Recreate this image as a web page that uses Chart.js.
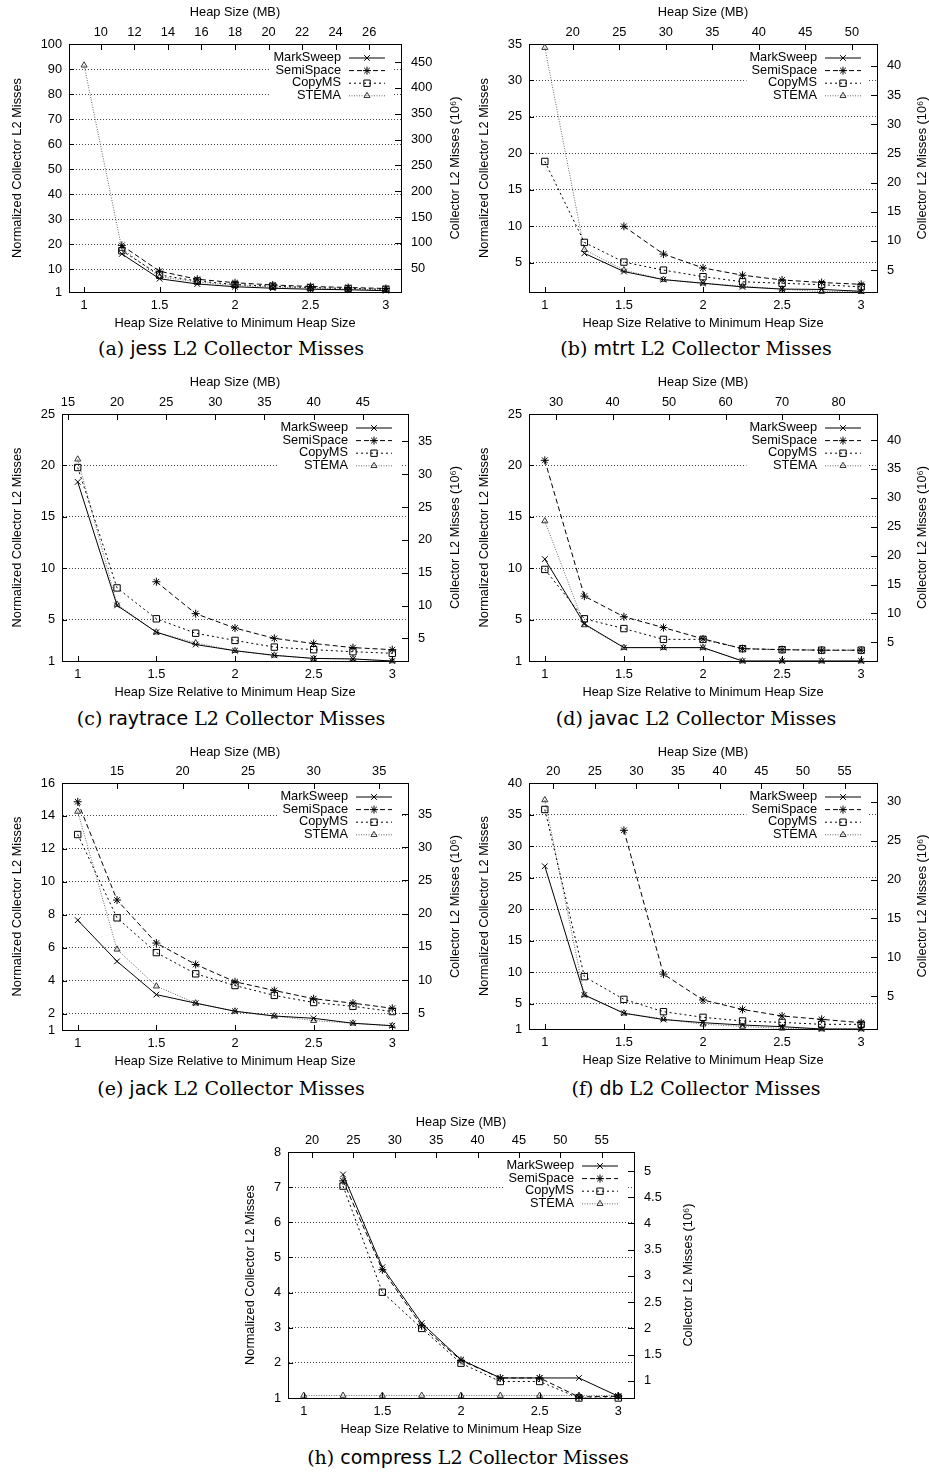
<!DOCTYPE html>
<html>
<head>
<meta charset="utf-8">
<script src="https://cdn.jsdelivr.net/npm/chart.js@4.4.1/dist/chart.umd.min.js"></script>
<style>
  body { margin: 0; background: #fff; width: 929px; height: 1472px; position: relative; overflow: hidden; }
  .panel { position: absolute; }
  .caption { position: absolute; font-family: "DejaVu Serif", "Liberation Serif", serif; font-size: 19px; white-space: nowrap; transform: translate(-50%, -50%); }
  .caption span { font-family: "DejaVu Sans", "Liberation Sans", sans-serif; }
</style>
</head>
<body>
<script>
const heapRatio = [1, 1.25, 1.5, 1.75, 2, 2.25, 2.5, 2.75, 3];
const ratioTicks = [1, 1.5, 2, 2.5, 3];
const collectors = ['MarkSweep', 'SemiSpace', 'CopyMS', 'STEMA'];

// (a) jess
const jessMinHeap = 9;
const jessHeapTicks = [10, 12, 14, 16, 18, 20, 22, 24, 26];
const jessNormRange = [1, 100];
const jessNormTicks = [1, 10, 20, 30, 40, 50, 60, 70, 80, 90, 100];
const jessMissTicks = [50, 100, 150, 200, 250, 300, 350, 400, 450];
const jessMissPerUnit = 4.85;
const jessMarkSweep = [null, 16.2, 6.3, 4.2, 3.1, 2.5, 2.1, 1.9, 1.5];
const jessSemiSpace = [null, 19.6, 9.3, 6.1, 4.7, 3.8, 3.2, 2.8, 2.4];
const jessCopyMS = [null, 17.5, 7.8, 5.4, 4.0, 3.3, 2.8, 2.4, 2.1];
const jessSTEMA = [91.5, 18.3, 7.1, 5.0, 3.6, 3.0, 2.5, 2.1, 1.9];

// (b) mtrt
const mtrtMinHeap = 17;
const mtrtHeapTicks = [20, 25, 30, 35, 40, 45, 50];
const mtrtNormRange = [1, 35];
const mtrtNormTicks = [5, 10, 15, 20, 25, 30, 35];
const mtrtMissTicks = [5, 10, 15, 20, 25, 30, 35, 40];
const mtrtMissPerUnit = 1.25;
const mtrtMarkSweep = [null, 6.3, 3.8, 2.7, 2.2, 1.7, 1.4, 1.35, 1.1];
const mtrtSemiSpace = [null, null, 10.0, 6.2, 4.3, 3.3, 2.65, 2.3, 2.05];
const mtrtCopyMS = [18.9, 7.8, 5.1, 4.0, 3.1, 2.4, 2.2, 2.0, 1.7];
const mtrtSTEMA = [34.5, 6.8, 4.0, 2.7, 2.2, 1.8, 1.4, 1.05, 1.05];

// (c) raytrace
const raytraceMinHeap = 16;
const raytraceHeapTicks = [15, 20, 25, 30, 35, 40, 45];
const raytraceNormRange = [1, 25];
const raytraceNormTicks = [1, 5, 10, 15, 20, 25];
const raytraceMissTicks = [5, 10, 15, 20, 25, 30, 35];
const raytraceMissPerUnit = 1.567;
const raytraceMarkSweep = [18.4, 6.4, 3.8, 2.6, 2.0, 1.55, 1.25, 1.2, 1.0];
const raytraceSemiSpace = [null, null, 8.7, 5.6, 4.2, 3.2, 2.7, 2.3, 2.1];
const raytraceCopyMS = [19.8, 8.1, 5.1, 3.7, 3.0, 2.35, 2.1, 1.9, 1.75];
const raytraceSTEMA = [20.6, 6.5, 3.8, 2.75, 2.0, 1.55, 1.25, 1.2, 1.0];

// (d) javac
const javacMinHeap = 28;
const javacHeapTicks = [30, 40, 50, 60, 70, 80];
const javacNormRange = [1, 25];
const javacNormTicks = [1, 5, 10, 15, 20, 25];
const javacMissTicks = [5, 10, 15, 20, 25, 30, 35, 40];
const javacMissPerUnit = 1.78;
const javacMarkSweep = [10.9, 4.6, 2.3, 2.3, 2.3, 1.0, 1.0, 1.0, 1.0];
const javacSemiSpace = [20.5, 7.3, 5.3, 4.25, 3.15, 2.2, 2.1, 2.05, 2.05];
const javacCopyMS = [9.9, 5.1, 4.15, 3.1, 3.1, 2.2, 2.1, 2.05, 2.05];
const javacSTEMA = [14.6, 4.5, 2.3, 2.3, 2.3, 1.0, 1.0, 1.0, 1.0];

// (e) jack
const jackMinHeap = 12;
const jackHeapTicks = [15, 20, 25, 30, 35];
const jackNormRange = [1, 16];
const jackNormTicks = [1, 2, 4, 6, 8, 10, 12, 14, 16];
const jackMissTicks = [5, 10, 15, 20, 25, 30, 35];
const jackMissPerUnit = 2.48;
const jackMarkSweep = [7.67, 5.17, 3.15, 2.63, 2.14, 1.85, 1.71, 1.41, 1.26];
const jackSemiSpace = [14.86, 8.89, 6.28, 4.98, 3.93, 3.4, 2.9, 2.63, 2.32];
const jackCopyMS = [12.87, 7.81, 5.7, 4.41, 3.7, 3.1, 2.67, 2.44, 2.12];
const jackSTEMA = [14.27, 5.9, 3.66, 2.63, 2.14, 1.85, 1.57, 1.41, 1.26];

// (f) db
const dbMinHeap = 19;
const dbHeapTicks = [20, 25, 30, 35, 40, 45, 50, 55];
const dbNormRange = [1, 40];
const dbNormTicks = [1, 5, 10, 15, 20, 25, 30, 35, 40];
const dbMissTicks = [5, 10, 15, 20, 25, 30];
const dbMissPerUnit = 0.81;
const dbMarkSweep = [26.8, 6.4, 3.5, 2.5, 2.0, 1.63, 1.37, 1.0, 1.0];
const dbSemiSpace = [null, null, 32.5, 9.7, 5.6, 4.1, 3.06, 2.53, 2.0];
const dbCopyMS = [35.8, 9.3, 5.7, 3.75, 2.85, 2.27, 2.05, 1.74, 1.74];
const dbSTEMA = [37.3, 6.4, 3.5, 2.6, 1.75, 1.4, 1.1, 1.0, 1.0];

// (h) compress
const compressMinHeap = 19;
const compressHeapTicks = [20, 25, 30, 35, 40, 45, 50, 55];
const compressNormRange = [1, 8];
const compressNormTicks = [1, 2, 3, 4, 5, 6, 7, 8];
const compressMissTicks = [1, 1.5, 2, 2.5, 3, 3.5, 4, 4.5, 5];
const compressMissPerUnit = 0.6705;
const compressMarkSweep = [null, 7.36, 4.72, 3.13, 2.09, 1.57, 1.57, 1.57, 1.05];
const compressSemiSpace = [null, 7.18, 4.65, 3.05, 2.07, 1.57, 1.57, 1.03, 1.05];
const compressCopyMS = [null, 7.03, 4.01, 2.98, 1.99, 1.47, 1.47, 1.0, 1.0];
const compressSTEMA = [1.07, 1.07, 1.07, 1.07, 1.07, 1.07, 1.07, 1.07, 1.07];

const panels = [
  { tag: '(a)', bench: 'jess', minHeap: jessMinHeap, heapTicks: jessHeapTicks, range: jessNormRange,
    normTicks: jessNormTicks, missTicks: jessMissTicks, k: jessMissPerUnit,
    series: [jessMarkSweep, jessSemiSpace, jessCopyMS, jessSTEMA],
    box: { left: 0, top: 0, w: 465, L: 69, R: 401, T: 44, B: 292, yTitleX: 17, y2TitleX: 455, capX: 231 } },
  { tag: '(b)', bench: 'mtrt', minHeap: mtrtMinHeap, heapTicks: mtrtHeapTicks, range: mtrtNormRange,
    normTicks: mtrtNormTicks, missTicks: mtrtMissTicks, k: mtrtMissPerUnit,
    series: [mtrtMarkSweep, mtrtSemiSpace, mtrtCopyMS, mtrtSTEMA],
    box: { left: 465, top: 0, w: 464, L: 64, R: 412, T: 44, B: 292, yTitleX: 19.5, y2TitleX: 457, capX: 231 } },
  { tag: '(c)', bench: 'raytrace', minHeap: raytraceMinHeap, heapTicks: raytraceHeapTicks, range: raytraceNormRange,
    normTicks: raytraceNormTicks, missTicks: raytraceMissTicks, k: raytraceMissPerUnit,
    series: [raytraceMarkSweep, raytraceSemiSpace, raytraceCopyMS, raytraceSTEMA],
    box: { left: 0, top: 370, w: 465, L: 62, R: 408, T: 44, B: 291, yTitleX: 17, y2TitleX: 455, capX: 231 } },
  { tag: '(d)', bench: 'javac', minHeap: javacMinHeap, heapTicks: javacHeapTicks, range: javacNormRange,
    normTicks: javacNormTicks, missTicks: javacMissTicks, k: javacMissPerUnit,
    series: [javacMarkSweep, javacSemiSpace, javacCopyMS, javacSTEMA],
    box: { left: 465, top: 370, w: 464, L: 64, R: 412, T: 44, B: 291, yTitleX: 19.5, y2TitleX: 457, capX: 231 } },
  { tag: '(e)', bench: 'jack', minHeap: jackMinHeap, heapTicks: jackHeapTicks, range: jackNormRange,
    normTicks: jackNormTicks, missTicks: jackMissTicks, k: jackMissPerUnit,
    series: [jackMarkSweep, jackSemiSpace, jackCopyMS, jackSTEMA],
    box: { left: 0, top: 740, w: 465, L: 62, R: 408, T: 43, B: 290, yTitleX: 17, y2TitleX: 455, capX: 231 } },
  { tag: '(f)', bench: 'db', minHeap: dbMinHeap, heapTicks: dbHeapTicks, range: dbNormRange,
    normTicks: dbNormTicks, missTicks: dbMissTicks, k: dbMissPerUnit,
    series: [dbMarkSweep, dbSemiSpace, dbCopyMS, dbSTEMA],
    box: { left: 465, top: 740, w: 464, L: 64, R: 412, T: 43, B: 289, yTitleX: 19.5, y2TitleX: 457, capX: 231 } },
  { tag: '(h)', bench: 'compress', minHeap: compressMinHeap, heapTicks: compressHeapTicks, range: compressNormRange,
    normTicks: compressNormTicks, missTicks: compressMissTicks, k: compressMissPerUnit,
    series: [compressMarkSweep, compressSemiSpace, compressCopyMS, compressSTEMA],
    box: { left: 230, top: 1110, w: 470, L: 58, R: 404, T: 42, B: 288, yTitleX: 20, y2TitleX: 458, capX: 238 } }
];

const H = 335;
const FS = 12.8;
const FONT = FS + 'px "Liberation Sans", Arial, sans-serif';
const lineStyles = [
  { borderColor: '#000', pointBorderColor: '#000', borderDash: [], pointStyle: 'crossRot', pointRadius: 4 },
  { borderColor: '#000', pointBorderColor: '#000', borderDash: [5, 3], pointStyle: 'star', pointRadius: 4 },
  { borderColor: '#000', pointBorderColor: '#000', borderDash: [2, 3], pointStyle: 'rect', pointRadius: 4.5 },
  { borderColor: '#666', pointBorderColor: '#333', borderDash: [1, 1.5], pointStyle: 'triangle', pointRadius: 3.5 }
];

Chart.defaults.font.family = '"Liberation Sans", Arial, sans-serif';
Chart.defaults.font.size = FS;
Chart.defaults.color = '#000';

// gnuplot style inward tick marks on all four borders
const inwardTicks = {
  id: 'inwardTicks',
  afterDraw(chart) {
    const { ctx, chartArea: a, scales } = chart;
    ctx.save();
    ctx.strokeStyle = '#000';
    ctx.lineWidth = 1;
    ctx.setLineDash([]);
    ctx.beginPath();
    scales.x.ticks.forEach(t => {
      const px = Math.round(scales.x.getPixelForValue(t.value)) + 0.5;
      ctx.moveTo(px, a.bottom); ctx.lineTo(px, a.bottom - 5);
    });
    scales.x2.ticks.forEach(t => {
      const px = Math.round(scales.x2.getPixelForValue(t.value)) + 0.5;
      ctx.moveTo(px, a.top); ctx.lineTo(px, a.top + 6);
    });
    scales.y.ticks.forEach(t => {
      const py = Math.round(scales.y.getPixelForValue(t.value)) + 0.5;
      ctx.moveTo(a.left, py); ctx.lineTo(a.left + 5, py);
    });
    scales.y2.ticks.forEach(t => {
      const py = Math.round(scales.y2.getPixelForValue(t.value)) + 0.5;
      ctx.moveTo(a.right, py); ctx.lineTo(a.right - 6, py);
    });
    ctx.stroke();
    ctx.restore();
  }
};

// key inside the top right corner, text left of the sample
const keyBox = {
  id: 'keyBox',
  afterDatasetsDraw(chart) {
    const { ctx, chartArea: a } = chart;
    const sets = chart.data.datasets;
    ctx.save();
    ctx.font = FONT;
    const textRight = a.right - 60;
    const wMax = Math.max(...sets.map(d => ctx.measureText(d.label).width));
    const boxLeft = textRight - wMax - 3;
    ctx.fillStyle = '#fff';
    ctx.fillRect(boxLeft, a.top + 1, a.right - 8 - boxLeft, 57);
    sets.forEach((d, i) => {
      const y = a.top + 13.5 + i * 12.6;
      ctx.fillStyle = '#000';
      ctx.textAlign = 'right';
      ctx.textBaseline = 'middle';
      ctx.fillText(d.label, textRight, y);
      ctx.strokeStyle = d.borderColor;
      ctx.lineWidth = 1;
      ctx.setLineDash(d.borderDash);
      ctx.beginPath();
      ctx.moveTo(a.right - 52, y + 0.5);
      ctx.lineTo(a.right - 16, y + 0.5);
      ctx.stroke();
      ctx.setLineDash([]);
      ctx.strokeStyle = d.pointBorderColor;
      ctx.fillStyle = 'rgba(0,0,0,0)';
      Chart.helpers.drawPoint(ctx, { pointStyle: d.pointStyle, radius: d.pointRadius, borderWidth: 1, rotation: 0 }, a.right - 34, y + 0.5);
    });
    ctx.restore();
  }
};

// right axis title reads bottom to top like gnuplot's
const rightTitle = {
  id: 'rightTitle',
  afterDraw(chart, args, opts) {
    const { ctx, chartArea: a } = chart;
    ctx.save();
    ctx.translate(opts.x, (a.top + a.bottom) / 2);
    ctx.rotate(-Math.PI / 2);
    ctx.font = FONT;
    ctx.fillStyle = '#000';
    ctx.textAlign = 'center';
    ctx.textBaseline = 'middle';
    ctx.fillText(opts.text, 0, 0);
    ctx.restore();
  }
};

function fixedTicks(list) {
  return s => { s.ticks = list.map(v => ({ value: v })); };
}

panels.forEach(p => {
  const b = p.box;
  const div = document.createElement('div');
  div.className = 'panel';
  div.style.left = b.left + 'px';
  div.style.top = b.top + 'px';
  const canvas = document.createElement('canvas');
  canvas.width = b.w;
  canvas.height = H;
  canvas.style.width = b.w + 'px';
  canvas.style.height = H + 'px';
  div.appendChild(canvas);
  document.body.appendChild(div);

  const cap = document.createElement('div');
  cap.className = 'caption';
  cap.style.left = (b.left + b.capX) + 'px';
  cap.style.top = (b.top + 348) + 'px';
  cap.innerHTML = p.tag + ' <span>' + p.bench + '</span> L2 Collector Misses';
  if (p.tag === '(h)') { cap.style.left = '468px'; cap.style.top = '1457px'; }
  document.body.appendChild(cap);

  const [yMin, yMax] = p.range;
  const half = FS * 1.2 / 2;
  new Chart(canvas, {
    type: 'line',
    data: {
      datasets: collectors.map((name, i) => ({
        label: name,
        data: heapRatio.map((x, j) => ({ x, y: p.series[i][j] })),
        ...lineStyles[i],
        borderWidth: 1,
        pointBorderWidth: 1,
        pointBackgroundColor: 'rgba(0,0,0,0)',
        fill: false,
        tension: 0,
        spanGaps: false,
        clip: false
      }))
    },
    options: {
      responsive: false,
      animation: false,
      devicePixelRatio: 1,
      events: [],
      layout: { padding: 0 },
      plugins: {
        legend: { display: false },
        tooltip: { enabled: false },
        rightTitle: { x: b.y2TitleX, text: 'Collector L2 Misses (10\u2076)' }
      },
      scales: {
        x: {
          type: 'linear', position: 'bottom', min: 0.9, max: 3.1,
          afterBuildTicks: fixedTicks(ratioTicks),
          afterFit: s => { s.height = H - b.B; },
          ticks: { callback: v => String(v), padding: 6, autoSkip: false, maxRotation: 0 },
          grid: { drawOnChartArea: false, drawTicks: false },
          border: { display: true, color: '#000', width: 1 },
          title: { display: true, text: 'Heap Size Relative to Minimum Heap Size', padding: { top: 0, bottom: H - half - 31 - b.B } }
        },
        x2: {
          type: 'linear', position: 'top', display: true,
          min: 0.9 * p.minHeap, max: 3.1 * p.minHeap,
          afterBuildTicks: fixedTicks(p.heapTicks),
          afterFit: s => { s.height = b.T; },
          ticks: { callback: v => String(v), padding: 4, autoSkip: false, maxRotation: 0 },
          grid: { drawOnChartArea: false, drawTicks: false },
          border: { display: true, color: '#000', width: 1 },
          title: { display: true, text: 'Heap Size (MB)', padding: { top: 12 - half, bottom: 0 } }
        },
        y: {
          type: 'linear', position: 'left', min: yMin, max: yMax,
          afterBuildTicks: fixedTicks(p.normTicks),
          afterFit: s => { s.width = b.L; },
          ticks: { callback: v => String(v), padding: 7, autoSkip: false },
          grid: {
            drawTicks: false, lineWidth: 1,
            color: c => (c.tick && (c.tick.value === yMin || c.tick.value === yMax)) ? 'rgba(0,0,0,0)' : '#444'
          },
          border: { display: true, color: '#000', width: 1, dash: [1, 2] },
          title: { display: true, text: 'Normalized Collector L2 Misses', padding: { top: b.yTitleX - half, bottom: 0 } }
        },
        y2: {
          type: 'linear', position: 'right', display: true,
          min: p.k * yMin, max: p.k * yMax,
          afterBuildTicks: fixedTicks(p.missTicks),
          afterFit: s => { s.width = b.w - b.R; },
          ticks: { callback: v => String(v), padding: 10, autoSkip: false },
          grid: { drawOnChartArea: false, drawTicks: false },
          border: { display: true, color: '#000', width: 1 }
        }
      }
    },
    plugins: [keyBox, inwardTicks, rightTitle]
  });
});
</script>
</body>
</html>
